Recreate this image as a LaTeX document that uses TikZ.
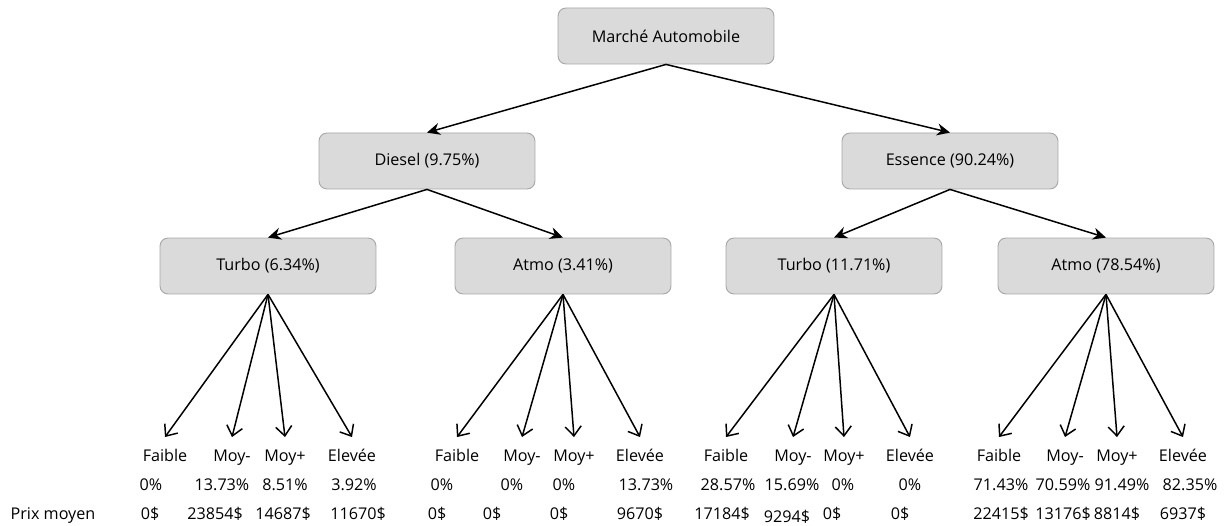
\documentclass[tikz,border=0pt]{standalone}
\usepackage{fontspec}
\setmainfont{Open Sans}
\usepackage{tikz}
\usetikzlibrary{arrows.meta,positioning}

\definecolor{boxgray}{HTML}{DADADA}
\definecolor{boxline}{HTML}{A6A6A6}

\tikzset{
  categ/.style={draw=boxline, fill=boxgray, rounded corners=0.16cm, line width=0.5pt,
    minimum width=4.32cm, minimum height=1.12cm, font=\fontsize{9.2}{11}\selectfont},
  leaf/.style={anchor=base, inner sep=0pt, text height=7pt, outer ysep=7.2pt,
    font=\fontsize{9.2}{11}\selectfont},
  val/.style={anchor=base, inner sep=0pt, font=\fontsize{9.2}{11}\selectfont},
  mainarrow/.style={-{Stealth[length=2.6mm,width=2.4mm]}, line width=0.85pt},
  leafarrow/.style={-{Straight Barb[length=1.9mm,width=3.2mm]}, line width=0.85pt}
}

\begin{document}
\begin{tikzpicture}[x=0.02cm, y=-0.02cm]
\useasboundingbox (0,0) rectangle (1228,526);

\node [categ] (marche) at (666,36) {Marché Automobile};
\node [categ] (diesel) at (427,161) {Diesel (9.75\%)};
\node [categ] (essence) at (950,161) {Essence (90.24\%)};
\node [categ] (turboD) at (268,266) {Turbo (6.34\%)};
\node [categ] (atmoD) at (563,266) {Atmo (3.41\%)};
\node [categ] (turboE) at (834,266) {Turbo (11.71\%)};
\node [categ] (atmoE) at (1106,266) {Atmo (78.54\%)};

\draw[mainarrow] (marche.south) -- (diesel.north);
\draw[mainarrow] (marche.south) -- (essence.north);
\draw[mainarrow] (diesel.south) -- (turboD.north);
\draw[mainarrow] (diesel.south) -- (atmoD.north);
\draw[mainarrow] (essence.south) -- (turboE.north);
\draw[mainarrow] (essence.south) -- (atmoE.north);

% tranches de prix
\foreach \p/\a/\b/\c/\d in {turboD/165/232/285/352, atmoD/457/522/574/640,
                            turboE/726/793/844/910, atmoE/999/1065/1117/1183} {
  \node [leaf] (\p-1) at (\a,462) {Faible};
  \node [leaf] (\p-2) at (\b,462) {Moy-};
  \node [leaf] (\p-3) at (\c,462) {Moy+};
  \node [leaf] (\p-4) at (\d,462) {Elevée};
  \foreach \i in {1,...,4}
    \draw[leafarrow] (\p.south) -- (\p-\i.north);
}

% parts
\node [val] (pct-d1) at (151,491) {0\%};
\node [val] (pct-d2) at (222,491) {13.73\%};
\node [val] (pct-d3) at (285,491) {8.51\%};
\node [val] (pct-d4) at (354,491) {3.92\%};
\node [val] (pct-d5) at (442,491) {0\%};
\node [val] (pct-d6) at (512,491) {0\%};
\node [val] (pct-d7) at (564,491) {0\%};
\node [val] (pct-d8) at (646,491) {13.73\%};
\node [val] (pct-e1) at (728,491) {28.57\%};
\node [val] (pct-e2) at (792,491) {15.69\%};
\node [val] (pct-e3) at (843,491) {0\%};
\node [val] (pct-e4) at (910,491) {0\%};
\node [val] (pct-e5) at (1001,491) {71.43\%};
\node [val] (pct-e6) at (1063,491) {70.59\%};
\node [val] (pct-e7) at (1122,491) {91.49\%};
\node [val] (pct-e8) at (1190,491) {82.35\%};

% prix moyens
\node [val] (prix) at (53,520) {Prix moyen};
\node [val] (prix-d1) at (150,520) {0\$};
\node [val] (prix-d2) at (215,520) {23854\$};
\node [val] (prix-d3) at (283,520) {14687\$};
\node [val] (prix-d4) at (358,520) {11670\$};
\node [val] (prix-d5) at (437,520) {0\$};
\node [val] (prix-d6) at (492,520) {0\$};
\node [val] (prix-d7) at (559,520) {0\$};
\node [val] (prix-d8) at (640,520) {9670\$};
\node [val] (prix-e1) at (722,520) {17184\$};
\node [val] (prix-e2) at (787,523) {9294\$};
\node [val] (prix-e3) at (832,520) {0\$};
\node [val] (prix-e4) at (900,520) {0\$};
\node [val] (prix-e5) at (1001,520) {22415\$};
\node [val] (prix-e6) at (1063,520) {13176\$};
\node [val] (prix-e7) at (1117,520) {8814\$};
\node [val] (prix-e8) at (1183,520) {6937\$};
\end{tikzpicture}
\end{document}
